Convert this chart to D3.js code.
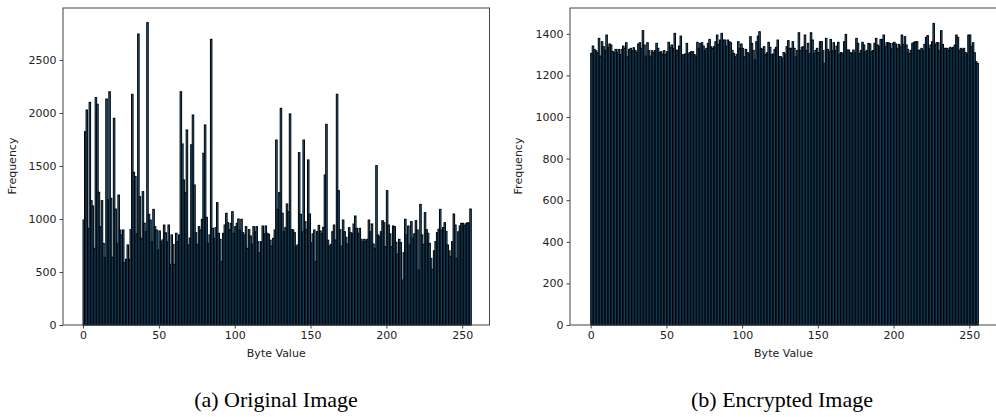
<!DOCTYPE html>
<html>
<head>
<meta charset="utf-8">
<script src="https://cdn.jsdelivr.net/npm/d3@7"></script>
<style>
  body { margin: 0; background: #fff; }
  svg { display: block; }
  .tick text { font-family: "DejaVu Sans", sans-serif; font-size: 11px; fill: #222; }
  .lbl { font-family: "DejaVu Sans", sans-serif; font-size: 11px; fill: #222; }
  .cap { font-family: "Liberation Serif", "Times New Roman", serif; font-size: 22px; fill: #000; }
</style>
</head>
<body>
<svg id="chart" width="996" height="417"></svg>
<script>
// histogram counts per byte value 0..255
const originalCounts = [
  990, 1824, 2028, 912, 2100, 1173, 1123, 723, 2145, 2082, 1252, 928, 1173, 770, 635, 2132,
  1180, 2200, 1195, 640, 1950, 1094, 770, 1226, 896, 850, 896, 588, 620, 755, 620, 900,
  2176, 1440, 1400, 860, 2745, 1210, 818, 1258, 960, 880, 2852, 1044, 990, 786, 1091, 928,
  896, 708, 887, 786, 802, 943, 870, 786, 943, 572, 850, 760, 572, 865, 786, 850,
  2200, 1708, 1368, 1249, 1840, 755, 820, 1700, 1981, 1321, 871, 761, 928, 896, 997, 1620,
  1887, 1016, 770, 850, 2695, 912, 818, 918, 1154, 865, 808, 598, 865, 943, 1054, 965,
  900, 959, 1069, 865, 928, 959, 1000, 896, 997, 871, 850, 928, 723, 900, 840, 764,
  928, 880, 928, 786, 682, 786, 934, 860, 934, 865, 855, 800, 745, 818, 896, 1745,
  1091, 1249, 2044, 1054, 880, 918, 1142, 1069, 1991, 900, 896, 871, 739, 755, 1626, 1044,
  880, 1745, 975, 900, 1557, 1047, 777, 860, 896, 598, 881, 940, 887, 860, 921, 1415,
  1893, 800, 745, 761, 880, 943, 802, 2176, 1267, 900, 745, 990, 880, 827, 764, 918,
  870, 865, 953, 1028, 912, 865, 912, 808, 786, 808, 790, 808, 990, 880, 953, 764,
  723, 1503, 850, 833, 880, 984, 965, 739, 1267, 943, 860, 739, 934, 928, 780, 670,
  808, 777, 425, 682, 997, 850, 934, 755, 975, 818, 860, 984, 896, 519, 1138, 850,
  761, 1060, 900, 865, 770, 629, 525, 700, 786, 871, 903, 1091, 896, 920, 965, 881,
  755, 700, 645, 786, 1047, 943, 629, 880, 934, 959, 959, 940, 955, 965, 960, 1094
];

const encryptedCounts = [
  1306, 1341, 1325, 1319, 1309, 1378, 1293, 1362, 1338, 1320, 1394, 1335, 1351, 1346, 1315, 1309,
  1325, 1310, 1325, 1300, 1325, 1341, 1330, 1357, 1290, 1325, 1330, 1320, 1333, 1319, 1310, 1351,
  1357, 1330, 1415, 1346, 1293, 1357, 1319, 1293, 1319, 1310, 1319, 1354, 1330, 1310, 1314, 1303,
  1319, 1300, 1314, 1359, 1335, 1346, 1330, 1402, 1322, 1319, 1341, 1389, 1300, 1298, 1303, 1354,
  1303, 1310, 1314, 1314, 1300, 1293, 1359, 1330, 1354, 1357, 1341, 1319, 1330, 1354, 1373, 1338,
  1330, 1338, 1362, 1394, 1350, 1370, 1402, 1370, 1370, 1340, 1370, 1362, 1357, 1320, 1306, 1290,
  1301, 1362, 1330, 1351, 1330, 1290, 1325, 1310, 1303, 1386, 1354, 1320, 1274, 1362, 1389, 1410,
  1330, 1325, 1338, 1300, 1309, 1359, 1335, 1300, 1303, 1325, 1335, 1370, 1290, 1290, 1282, 1310,
  1303, 1338, 1367, 1330, 1330, 1362, 1330, 1290, 1320, 1405, 1320, 1335, 1338, 1394, 1320, 1354,
  1306, 1405, 1370, 1306, 1320, 1330, 1310, 1362, 1362, 1320, 1258, 1378, 1325, 1314, 1373, 1320,
  1357, 1320, 1341, 1359, 1303, 1310, 1303, 1362, 1397, 1322, 1322, 1310, 1306, 1322, 1310, 1378,
  1354, 1306, 1320, 1359, 1346, 1314, 1320, 1354, 1351, 1314, 1320, 1354, 1378, 1346, 1338, 1373,
  1373, 1394, 1340, 1357, 1357, 1354, 1330, 1354, 1359, 1351, 1330, 1349, 1341, 1394, 1350, 1386,
  1346, 1325, 1306, 1320, 1354, 1359, 1362, 1362, 1320, 1322, 1330, 1320, 1349, 1383, 1391, 1330,
  1346, 1362, 1450, 1349, 1357, 1357, 1320, 1415, 1349, 1330, 1330, 1330, 1320, 1335, 1330, 1335,
  1346, 1394, 1383, 1320, 1330, 1325, 1330, 1310, 1303, 1394, 1394, 1340, 1357, 1309, 1266, 1258
];

const xTickValues = [0, 50, 100, 150, 200, 250];
const originalYTicks = [0, 500, 1000, 1500, 2000, 2500];
const encryptedYTicks = [0, 200, 400, 600, 800, 1000, 1200, 1400];
const captions = ["(a) Original Image", "(b) Encrypted Image"];

const svg = d3.select("#chart");

function drawPanel(counts, opts) {
  const x = d3.scaleLinear().domain(opts.xDomain).range([opts.left, opts.right]);
  const y = d3.scaleLinear().domain([0, opts.yMax]).range([325, 8]);
  const g = svg.append("g");

  // bars, one bin per byte value
  g.selectAll("rect")
    .data(counts)
    .join("rect")
    .attr("x", (d, i) => x(i))
    .attr("width", (d, i) => x(i + 1) - x(i))
    .attr("y", d => y(d))
    .attr("height", d => y(0) - y(d))
    .attr("fill", "#1f77b4")
    .attr("stroke", "#000")
    .attr("stroke-width", 1);

  // frame
  g.append("rect")
    .attr("x", opts.left).attr("y", 8)
    .attr("width", opts.right - opts.left).attr("height", 317)
    .attr("fill", "none").attr("stroke", "#444").attr("stroke-width", 1);

  const fmt = d3.format("d");
  const xAxis = g.append("g")
    .attr("transform", "translate(0,325)")
    .call(d3.axisBottom(x).tickValues(xTickValues).tickFormat(fmt).tickSize(3.5).tickPadding(3));
  const yAxis = g.append("g")
    .attr("transform", `translate(${opts.left},0)`)
    .call(d3.axisLeft(y).tickValues(opts.yTicks).tickFormat(fmt).tickSize(3.5).tickPadding(3));
  [xAxis, yAxis].forEach(a => {
    a.select(".domain").remove();
    a.selectAll(".tick line").attr("stroke", "#444");
  });

  g.append("text").attr("class", "lbl")
    .attr("x", (opts.left + opts.right) / 2).attr("y", 357)
    .attr("text-anchor", "middle").text("Byte Value");
  g.append("text").attr("class", "lbl")
    .attr("transform", `translate(${opts.yLabelX},166) rotate(-90)`)
    .attr("text-anchor", "middle").text("Frequency");
  g.append("text").attr("class", "cap")
    .attr("x", opts.capX).attr("y", 407)
    .attr("text-anchor", "middle").text(opts.caption);
}

drawPanel(originalCounts, {
  xDomain: [-13.2, 268], left: 63, right: 489.5,
  yMax: 2990, yTicks: originalYTicks, yLabelX: 16,
  capX: 276, caption: captions[0]
});

drawPanel(encryptedCounts, {
  xDomain: [-13.67, 268.3], left: 570, right: 997,
  yMax: 1524, yTicks: encryptedYTicks, yLabelX: 522,
  capX: 782, caption: captions[1]
});
</script>
</body>
</html>
